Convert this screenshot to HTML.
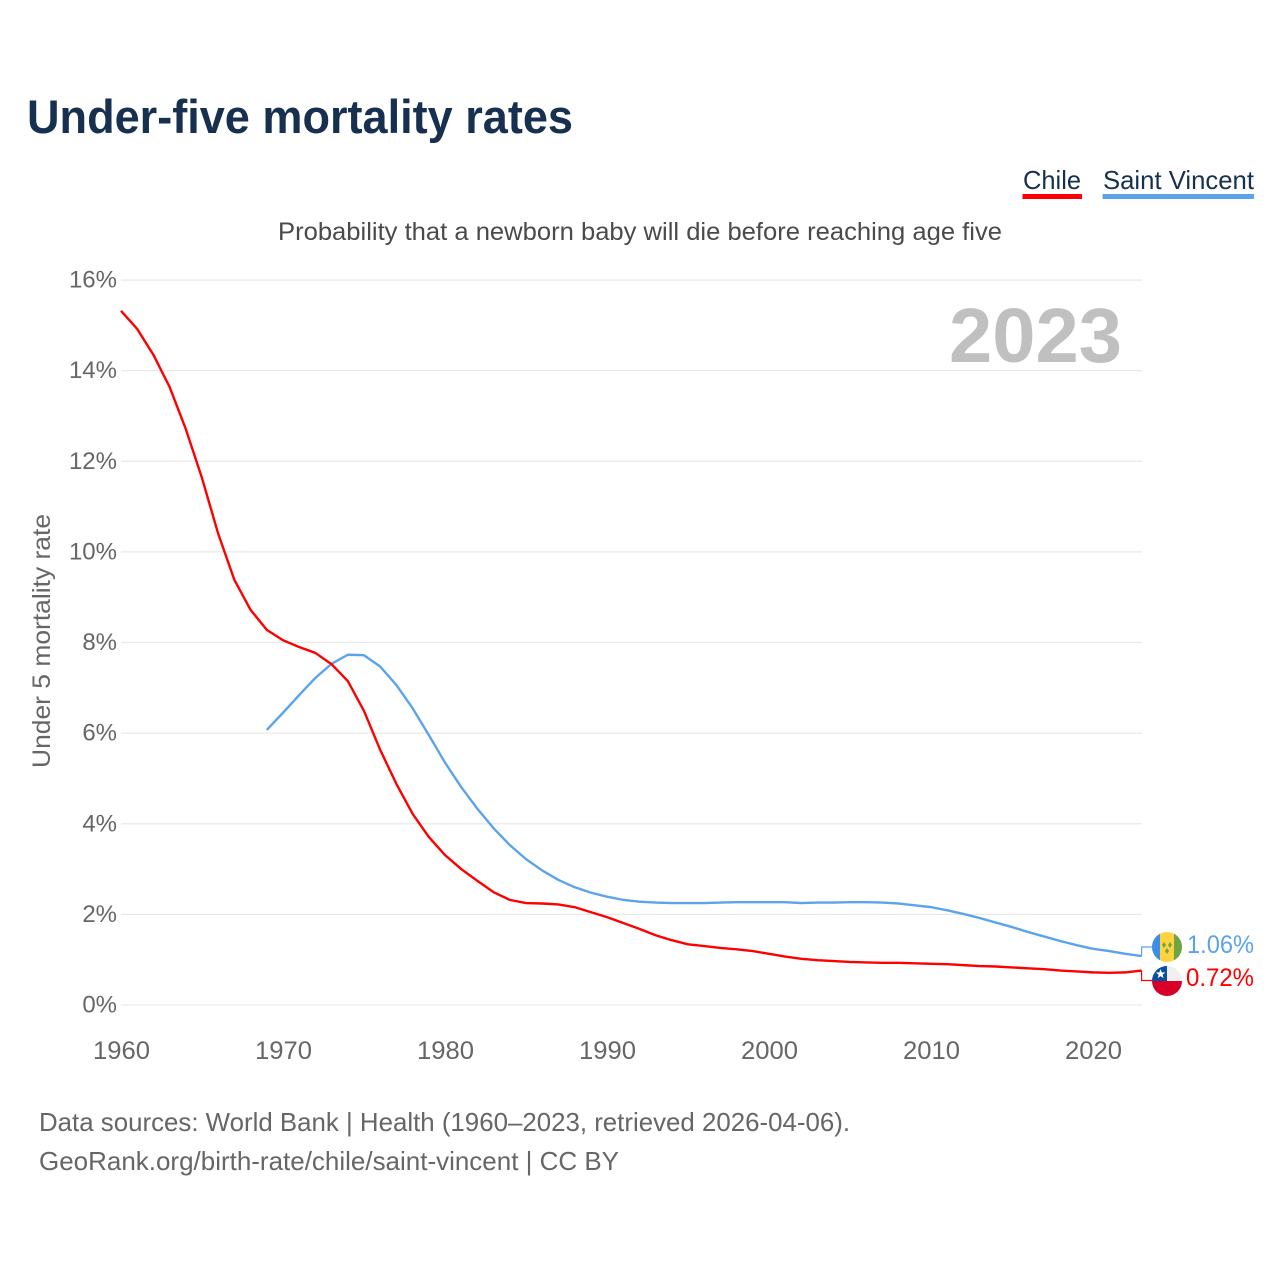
<!DOCTYPE html>
<html lang="en">
<head>
<meta charset="utf-8">
<title>Under-five mortality rates</title>
<style>
html,body{margin:0;padding:0;background:#fff;width:1280px;height:1280px;overflow:hidden}
svg{display:block}
text{font-family:"Liberation Sans",sans-serif}
</style>
</head>
<body>
<svg id="chart" xmlns="http://www.w3.org/2000/svg" width="1280" height="1280" viewBox="0 0 1280 1280">
  <rect x="0" y="0" width="1280" height="1280" fill="#ffffff"/>
  <text x="27" y="133" font-size="47" font-weight="700" fill="#17304f" textLength="546" lengthAdjust="spacingAndGlyphs">Under-five mortality rates</text>

  <g>
    <g>
      <text x="1023" y="189" font-size="26" fill="#17304f" textLength="58" lengthAdjust="spacingAndGlyphs">Chile</text>
      <rect x="1022.5" y="194" width="59.5" height="5" fill="#ff0000"/>
    </g>
    <g>
      <text x="1103" y="189" font-size="26" fill="#17304f" textLength="151" lengthAdjust="spacingAndGlyphs">Saint Vincent</text>
      <rect x="1102.5" y="194" width="151.5" height="5" fill="#5ba4ec"/>
    </g>
  </g>

  <text x="278" y="240" font-size="25" fill="#4a4a4a" textLength="724" lengthAdjust="spacingAndGlyphs">Probability that a newborn baby will die before reaching age five</text>

  <g id="grid"></g>
  <g id="yticks"></g>
  <g id="xticks"></g>

  <text transform="translate(50 641) rotate(-90)" text-anchor="middle" font-size="25" fill="#666666" textLength="254" lengthAdjust="spacingAndGlyphs">Under 5 mortality rate</text>

  <text x="949" y="362" font-size="77" font-weight="700" fill="#c0c0c0" textLength="173" lengthAdjust="spacingAndGlyphs">2023</text>

  <g id="series"></g>

  <g>
    <clipPath id="clip-vc"><circle cx="1167" cy="947" r="15"/></clipPath>
    <g clip-path="url(#clip-vc)">
      <rect x="1152" y="932" width="30" height="30" fill="#ffd23f"/>
      <rect x="1152" y="932" width="8" height="30" fill="#3b8ee8"/>
      <rect x="1174" y="932" width="8" height="30" fill="#6da544"/>
      <path d="M1164 942l2 3-2 3-2-3zM1170 942l2 3-2 3-2-3zM1167 948l2 3-2 3-2-3z" fill="#6da544"/>
    </g>
  </g>
  <g>
    <clipPath id="clip-cl"><circle cx="1167" cy="981" r="15"/></clipPath>
    <g clip-path="url(#clip-cl)">
      <rect x="1152" y="966" width="30" height="15" fill="#f0f0f0"/>
      <rect x="1152" y="981" width="30" height="15" fill="#d80027"/>
      <rect x="1152" y="966" width="15" height="15" fill="#0a4ea2"/>
      <path d="M1160.5 969l1.3 3.4 3.6.1-2.8 2.2 1 3.4-3-2-3 2 1-3.4-2.8-2.2 3.6-.1z" fill="#ffffff"/>
    </g>
  </g>
  <text x="1187" y="953" font-size="25" fill="#5ba4ec" textLength="67" lengthAdjust="spacingAndGlyphs">1.06%</text>
  <text x="1186" y="986" font-size="25" fill="#ff0000" textLength="68" lengthAdjust="spacingAndGlyphs">0.72%</text>

  <text x="39" y="1131" font-size="26" fill="#666666" textLength="811" lengthAdjust="spacingAndGlyphs">Data sources: World Bank | Health (1960–2023, retrieved 2026-04-06).</text>
  <text x="39" y="1170" font-size="26" fill="#666666" textLength="580" lengthAdjust="spacingAndGlyphs">GeoRank.org/birth-rate/chile/saint-vincent | CC BY</text>
</svg>
<script>
const yTickValues = [0, 2, 4, 6, 8, 10, 12, 14, 16];
const xTickYears = [1960, 1970, 1980, 1990, 2000, 2010, 2020];
const chileStartYear = 1960;
const chileValues = [
  15.32, 14.92, 14.35, 13.64, 12.71, 11.63, 10.40, 9.38, 8.72, 8.28,
  8.05, 7.90, 7.77, 7.52, 7.15, 6.49, 5.63, 4.88, 4.22, 3.71,
  3.31, 3.00, 2.74, 2.49, 2.32, 2.25, 2.24, 2.22, 2.16, 2.05,
  1.94, 1.81, 1.68, 1.54, 1.43, 1.34, 1.30, 1.26, 1.23, 1.19,
  1.13, 1.07, 1.02, 0.99, 0.97, 0.95, 0.94, 0.93, 0.93, 0.92,
  0.91, 0.90, 0.88, 0.86, 0.85, 0.83, 0.81, 0.79, 0.76, 0.74,
  0.72, 0.71, 0.72, 0.76
];
const vincentStartYear = 1969;
const vincentValues = [
  6.07, 6.45, 6.84, 7.22, 7.53, 7.73, 7.72, 7.47, 7.06, 6.55,
  5.96, 5.35, 4.81, 4.33, 3.90, 3.53, 3.22, 2.97, 2.76, 2.60,
  2.48, 2.39, 2.32, 2.28, 2.26, 2.25, 2.25, 2.25, 2.26, 2.27,
  2.27, 2.27, 2.27, 2.25, 2.26, 2.26, 2.27, 2.27, 2.26, 2.24,
  2.20, 2.16, 2.09, 2.01, 1.92, 1.82, 1.72, 1.61, 1.51, 1.41,
  1.32, 1.24, 1.19, 1.13, 1.08
];

const svgNS = 'http://www.w3.org/2000/svg';
function xScale(year) { return 121 + (year - 1960) * 16.2; }
function yScale(v) { return 1005 - v * 45.31; }
function make(tag, parent, attrs) {
  const el = document.createElementNS(svgNS, tag);
  for (const k in attrs) el.setAttribute(k, attrs[k]);
  parent.appendChild(el);
  return el;
}

const grid = document.getElementById('grid');
const yticks = document.getElementById('yticks');
const xticks = document.getElementById('xticks');
const series = document.getElementById('series');

yTickValues.forEach(function (v) {
  const line = make('line', grid, { x1: 121, x2: 1142, y1: yScale(v), y2: yScale(v), stroke: '#e9e9e9', 'stroke-width': 1.3 });
  
  
  const t = make('text', yticks, { x: 117, y: yScale(v) + 7.5, 'text-anchor': 'end', 'font-size': 24, fill: '#666666' });
  
  
  t.textContent = v + '%';
});

xTickYears.forEach(function (yr) {
  const t = make('text', xticks, { x: xScale(yr) + 0.5, y: 1059, 'text-anchor': 'middle', 'font-size': 25, fill: '#666666', textLength: 57, lengthAdjust: 'spacingAndGlyphs' });
  
  
  t.textContent = yr;
});

function linePath(start, values) {
  return values.map(function (v, i) {
    return (i ? 'L' : 'M') + xScale(start + i).toFixed(2) + ' ' + yScale(v).toFixed(2);
  }).join('');
}

const vincentLine = make('path', series, { d: linePath(vincentStartYear, vincentValues), fill: 'none', stroke: '#5ba4ec', 'stroke-width': 2.4, 'stroke-linejoin': 'round' });



const chileLine = make('path', series, { d: linePath(chileStartYear, chileValues), fill: 'none', stroke: '#ff0000', 'stroke-width': 2.4, 'stroke-linejoin': 'round' });



const endX = xScale(2023);
const vincentEndY = yScale(vincentValues[vincentValues.length - 1]);
const chileEndY = yScale(chileValues[chileValues.length - 1]);

const vincentConnector = make('path', series, { d: 'M' + endX + ' ' + vincentEndY + 'V947H1153', fill: 'none', stroke: '#5ba4ec', 'stroke-width': 1.2 });



const chileConnector = make('path', series, { d: 'M' + endX + ' ' + chileEndY + 'V980.5H1153', fill: 'none', stroke: '#ff0000', 'stroke-width': 1.2 });


</script>
</body>
</html>
